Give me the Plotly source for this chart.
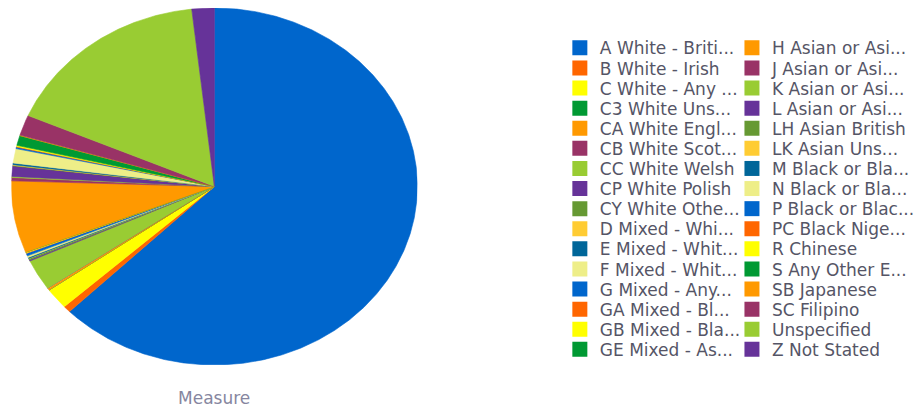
import numpy as np
import plotly.graph_objects as go

W, H = 920, 407

# ethnicity categories (legend text is shown truncated, as in the source report)
labels = [
    "A White - Briti...", "B White - Irish", "C White - Any ...", "C3 White Uns...",
    "CA White Engl...", "CB White Scot...", "CC White Welsh", "CP White Polish",
    "CY White Othe...", "D Mixed - Whi...", "E Mixed - Whit...", "F Mixed - Whit...",
    "G Mixed - Any...", "GA Mixed - Bl...", "GB Mixed - Bla...", "GE Mixed - As...",
    "H Asian or Asi...", "J Asian or Asi...", "K Asian or Asi...", "L Asian or Asi...",
    "LH Asian British", "LK Asian Uns...", "M Black or Bla...", "N Black or Bla...",
    "P Black or Blac...", "PC Black Nige...", "R Chinese", "S Any Other E...",
    "SB Japanese", "SC Filipino", "Unspecified", "Z Not Stated",
]

# share of the measure per category (percent)
values = [
    62.6, 0.6, 1.85, 0.05,
    0.15, 0.05, 2.8, 0.1,
    0.1, 0.05, 0.1, 0.15,
    0.2, 0.05, 0.05, 0.05,
    6.5, 0.3, 0.1, 0.95,
    0.05, 0.05, 0.15, 1.3,
    0.15, 0.05, 0.1, 0.9,
    0.05, 1.85, 16.7, 1.78,
]

palette = ["#0066CC", "#FF6600", "#FFFF00", "#009933", "#FF9900", "#993366",
           "#99CC33", "#663399", "#669933", "#FFCC33", "#006699", "#EEEE88"]

axis_title = "Measure"

fig = go.Figure()

# pie wedges, clockwise from 12 o'clock, drawn as filled polygons so the
# chart can sit in a non-square plot box
total = float(sum(values))
cum = np.concatenate([[0.0], np.cumsum(values)]) / total
step = np.radians(0.4)
for i, (lab, v) in enumerate(zip(labels, values)):
    c = palette[i % len(palette)]
    a0, a1 = 2 * np.pi * cum[i], 2 * np.pi * cum[i + 1]
    n = max(2, int(np.ceil((a1 - a0) / step)) + 1)
    t = np.linspace(a0, a1, n)
    xs = np.concatenate([[0.0], np.sin(t), [0.0]])
    ys = np.concatenate([[0.0], np.cos(t), [0.0]])
    fig.add_trace(go.Scatter(
        x=xs, y=ys, mode="lines", fill="toself", fillcolor=c,
        line=dict(color=c, width=0.6), hoveron="fills",
        hoverinfo="text", text=f"{lab}: {v / total:.1%}",
        legendgroup=lab, showlegend=False,
    ))

# legend: two columns of square swatches
font = dict(family="DejaVu Sans", size=17, color="#555566")
legends = {}
rows = 16
for i, lab in enumerate(labels):
    c = palette[i % len(palette)]
    col, row = divmod(i, rows)
    key = "legend" if i == 0 else f"legend{i + 1}"
    fig.add_trace(go.Scatter(
        x=[None], y=[None], mode="markers", name=lab,
        marker=dict(symbol="square", size=15, color=c),
        legend=key, legendgroup=lab, showlegend=True,
    ))
    left_px = 566 if col == 0 else 740
    y_px = 48.3 + 20.1 * row
    legends[key] = dict(
        x=left_px / W, y=1 - y_px / H, xanchor="left", yanchor="middle",
        font=font, bgcolor="rgba(0,0,0,0)", borderwidth=0,
        itemclick=False, itemdoubleclick=False,
    )

fig.update_layout(
    width=W, height=H,
    margin=dict(l=0, r=0, t=0, b=0),
    paper_bgcolor="white", plot_bgcolor="white",
    xaxis=dict(domain=[11.5 / W, 422 / W], range=[-1, 1], visible=False,
               fixedrange=True),
    yaxis=dict(domain=[(H - 365) / H, (H - 8) / H], range=[-1, 1],
               visible=False, fixedrange=True),
    annotations=[dict(
        text=axis_title, x=216.75 / W, y=(H - 398) / H, xref="paper",
        yref="paper", xanchor="center", yanchor="middle", showarrow=False,
        font=dict(family="DejaVu Sans", size=17, color="#8686a0"),
    )],
    **legends,
)

fig.write_html("out.html")
